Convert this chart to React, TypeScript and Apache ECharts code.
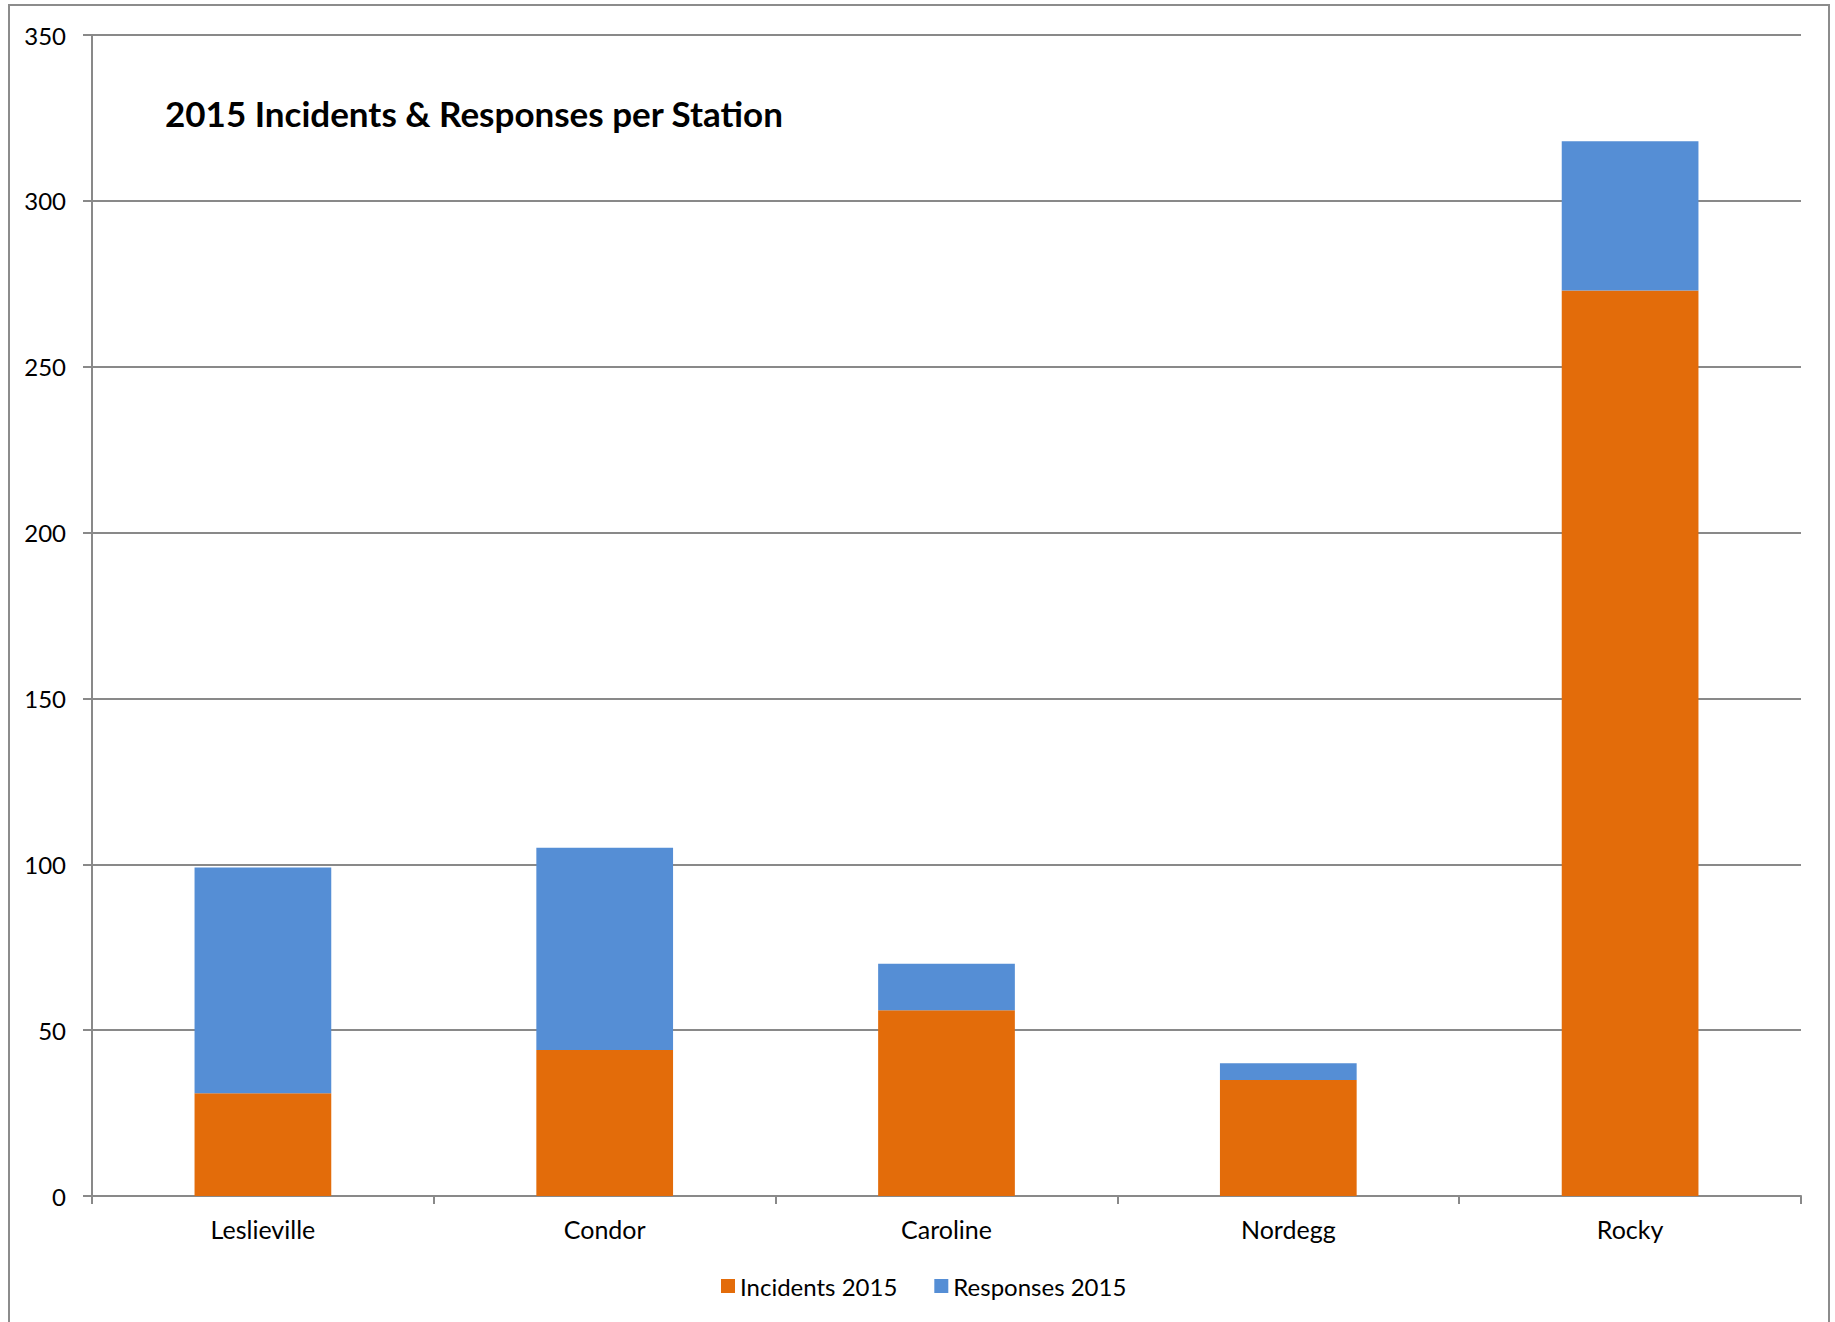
import React, { useEffect, useRef } from "react";
import * as echarts from "echarts";

const categories = ["Leslieville", "Condor", "Caroline", "Nordegg", "Rocky"];
const incidents2015 = [31, 44, 56, 35, 273];
const responses2015 = [68, 61, 14, 5, 45];
const yTicks = { min: 0, max: 350, interval: 50 };
const titleText = "2015 Incidents & Responses per Station";
const seriesNames = ["Incidents 2015", "Responses 2015"];

const FONT = "Lato, 'Open Sans', sans-serif";
const AXIS_GRAY = "#898989";

export default function App() {
  const ref = useRef<HTMLDivElement>(null);
  useEffect(() => {
    if (!ref.current) return;
    const chart = echarts.init(ref.current, undefined, { renderer: "svg" });
    chart.setOption({
      animation: false,
      backgroundColor: "#ffffff",
      textStyle: { fontFamily: FONT },
      title: {
        text: titleText,
        left: 160,
        top: 90,
        textStyle: { fontFamily: FONT, fontSize: 35, fontWeight: "bold", color: "#000" },
      },
      graphic: [
        {
          type: "rect",
          silent: true,
          shape: { x: 9, y: 5, width: 1820, height: 1340 },
          style: { fill: "none", stroke: "#8c8c8c", lineWidth: 2 },
        },
      ],
      legend: {
        left: 716,
        top: 1269,
        itemWidth: 14,
        itemHeight: 14,
        itemGap: 37,
        icon: "rect",
        textStyle: { fontFamily: FONT, fontSize: 24, color: "#000" },
        data: seriesNames,
      },
      grid: { left: 92, right: 34, top: 35, bottom: 126, containLabel: false },
      xAxis: {
        type: "category",
        data: categories,
        axisLine: { lineStyle: { color: AXIS_GRAY, width: 2 } },
        axisTick: { show: true, length: 8, lineStyle: { color: AXIS_GRAY, width: 2 } },
        axisLabel: { fontFamily: FONT, fontSize: 25, color: "#000", margin: 20 },
      },
      yAxis: {
        type: "value",
        min: yTicks.min,
        max: yTicks.max,
        interval: yTicks.interval,
        axisLine: { show: true, lineStyle: { color: AXIS_GRAY, width: 2 } },
        axisTick: { show: true, length: 9, lineStyle: { color: AXIS_GRAY, width: 2 } },
        axisLabel: { fontFamily: FONT, fontSize: 24, color: "#000", margin: 26 },
        splitLine: { show: true, lineStyle: { color: AXIS_GRAY, width: 2 } },
      },
      series: [
        {
          name: seriesNames[0],
          type: "bar",
          stack: "total",
          barCategoryGap: "60%",
          data: incidents2015,
          itemStyle: { color: "#E36C0A" },
        },
        {
          name: seriesNames[1],
          type: "bar",
          stack: "total",
          barCategoryGap: "60%",
          data: responses2015,
          itemStyle: { color: "#558ED5" },
        },
      ],
    });
    return () => chart.dispose();
  }, []);
  return (
    <div
      ref={ref}
      style={{ position: "fixed", left: 0, top: 0, width: 1835, height: 1322 }}
    />
  );
}
